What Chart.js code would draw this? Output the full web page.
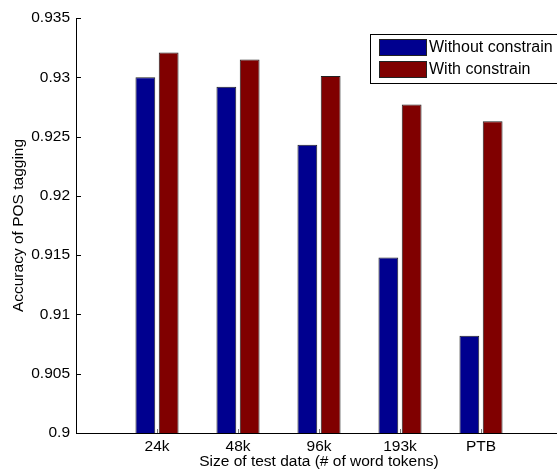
<!DOCTYPE html>
<html>
<head>
<meta charset="utf-8">
<script src="https://cdn.jsdelivr.net/npm/chart.js@4/dist/chart.umd.min.js"></script>
<style>
  html, body { margin: 0; padding: 0; background: #fff; }
  #wrap { width: 557px; height: 471px; overflow: hidden; position: relative; }
  #myChart { display: block; }
</style>
</head>
<body>
<div id="wrap">
  <canvas id="myChart" width="566" height="471"></canvas>
</div>
<script>
const categories = ['24k', '48k', '96k', '193k', 'PTB'];
const withoutConstrain = [0.9300, 0.9292, 0.9243, 0.9148, 0.9082];
const withConstrain = [0.9321, 0.9315, 0.9301, 0.9277, 0.9263];
const seriesNames = ['Without constrain', 'With constrain'];
const seriesColors = ['#00008f', '#800000'];

const yMin = 0.9;
const yMax = 0.935;
const yStep = 0.005;

const fontFamily = '"Liberation Sans", Arial, Helvetica, sans-serif';
const fontSize = 15.5;

// empty slots at both ends so the x range runs 0..6 like the matlab axes
const labels = [''].concat(categories, ['']);
const pad = (arr) => [null].concat(arr, [null]);

// matlab style ticks pointing into the plot
const innerTicks = {
    id: 'innerTicks',
    afterDatasetsDraw(chart) {
        const ctx = chart.ctx;
        const x = chart.scales.x;
        const y = chart.scales.y;
        const area = chart.chartArea;
        ctx.save();
        ctx.strokeStyle = '#000';
        ctx.lineWidth = 1;
        ctx.beginPath();
        y.ticks.forEach((t) => {
            const py = Math.round(y.getPixelForValue(t.value)) + 0.5;
            ctx.moveTo(area.left, py);
            ctx.lineTo(area.left + 5, py);
        });
        ctx.stroke();
        ctx.strokeStyle = '#777';
        ctx.beginPath();
        categories.forEach((c, i) => {
            const px = Math.round(x.getPixelForValue(i + 1)) + 0.5;
            ctx.moveTo(px, area.bottom);
            ctx.lineTo(px, area.bottom - 4);
        });
        ctx.stroke();
        ctx.restore();
    }
};

const boxLegend = {
    id: 'boxLegend',
    afterDraw(chart) {
        const ctx = chart.ctx;
        const left = 370, top = 34, bottom = 83;
        ctx.save();
        ctx.fillStyle = '#fff';
        ctx.fillRect(left, top, chart.width - left + 10, bottom - top);
        ctx.strokeStyle = '#000';
        ctx.lineWidth = 1;
        ctx.strokeRect(left + 0.5, top + 0.5, chart.width - left + 10, bottom - top);
        ctx.font = '16px ' + fontFamily;
        ctx.textBaseline = 'middle';
        chart.data.datasets.forEach((ds, i) => {
            const sy = 39 + i * 22;
            ctx.fillStyle = ds.backgroundColor;
            ctx.fillRect(379, sy, 48, 17);
            ctx.strokeStyle = '#222';
            ctx.strokeRect(379.5, sy + 0.5, 47, 16);
            ctx.fillStyle = '#000';
            ctx.fillText(ds.label, 429, sy + 9);
        });
        ctx.restore();
    }
};

const data = {
    labels: labels,
    datasets: [{
        label: seriesNames[0],
        data: pad(withoutConstrain),
        backgroundColor: seriesColors[0],
        borderColor: '#222',
        borderWidth: 1
    }, {
        label: seriesNames[1],
        data: pad(withConstrain),
        backgroundColor: seriesColors[1],
        borderColor: '#222',
        borderWidth: 1
    }]
};

const config = {
    type: 'bar',
    data: data,
    options: {
        responsive: false,
        animation: false,
        categoryPercentage: 0.575,
        barPercentage: 0.85,
        layout: { padding: { top: 18, left: 0, right: 0, bottom: 0 } },
        plugins: {
            legend: { display: false },
            tooltip: { enabled: false }
        },
        scales: {
            x: {
                offset: false,
                grid: { display: false, drawTicks: false },
                border: { display: true, color: '#000', width: 1 },
                ticks: {
                    color: '#000',
                    font: { family: fontFamily, size: fontSize },
                    padding: 4,
                    autoSkip: false,
                    maxRotation: 0
                },
                title: {
                    display: true,
                    text: 'Size of test data (# of word tokens)',
                    color: '#000',
                    font: { family: fontFamily, size: fontSize },
                    padding: { top: 0, bottom: 0 }
                },
                afterFit(scale) { scale.height = 38; }
            },
            y: {
                min: yMin,
                max: yMax,
                grid: { display: false, drawTicks: false },
                border: { display: true, color: '#000', width: 1 },
                ticks: {
                    stepSize: yStep,
                    color: '#000',
                    font: { family: fontFamily, size: fontSize },
                    padding: 6,
                    callback: (v) => String(Number(v.toFixed(3)))
                },
                title: {
                    display: true,
                    text: 'Accuracy of POS tagging',
                    color: '#000',
                    font: { family: fontFamily, size: fontSize },
                    padding: { top: 9, bottom: 0 }
                },
                afterFit(scale) { scale.width = 76; }
            }
        }
    },
    plugins: [innerTicks, boxLegend]
};

const myChart = new Chart(document.getElementById('myChart'), config);
</script>
</body>
</html>
